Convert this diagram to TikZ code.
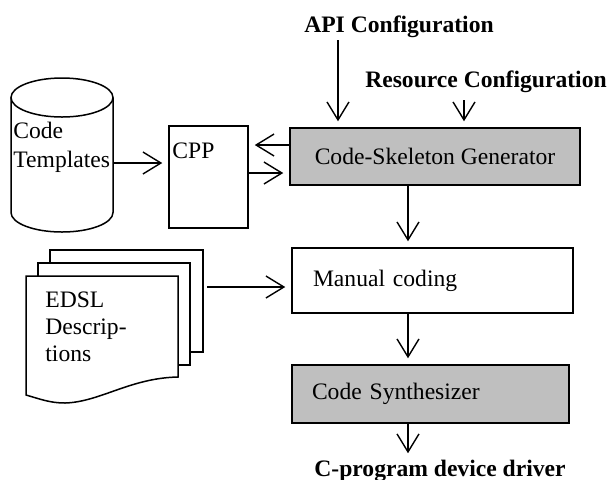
\documentclass[tikz,border=0pt]{standalone}
\usepackage{fontspec}
\setmainfont{Liberation Serif}
\usetikzlibrary{positioning, calc, shapes.geometric, arrows.meta}
\tikzstyle{Arrow} = [
%open v-shaped heads, stopped a little short of the box
line width=0.7pt,
-{Straight Barb[length=9pt, width=11pt, line width=0.7pt]},
shorten >= 3pt
]

\begin{document}
\begin{tikzpicture}[x=0.5pt, y=-0.5pt,
				lbl/.style = {font=\fontsize{11.8}{14.5}\selectfont, inner sep=0pt},
				head/.style = {font=\fontsize{11.8}{14}\selectfont\bfseries, inner sep=0pt},
				proc/.style = {rectangle, draw, line width=0.75pt, font=\fontsize{11.8}{14}\selectfont, inner sep=0pt},
				shaded/.style = {proc, fill=black!25},
				store/.style = {rectangle, minimum width=51pt, minimum height=77pt, inner sep=0pt, outer sep=0pt},
				page/.style = {draw, line width=0.75pt},
			]
			\useasboundingbox (0,0) rectangle (610,479);

			% configuration inputs
			\node[head, anchor=base](api) at (399,32){API Configuration};
			\node[head, anchor=base](res) at (486,87){Resource Configuration};

			% main flow
			\node[shaded, minimum width=145pt, minimum height=28.5pt](gen) at (435,156.5){Code-Skeleton Generator};
			\node[proc, minimum width=39.5pt, minimum height=51pt](cpp) at (208.5,177){};
			\node[lbl, anchor=west](cpptxt) at (172,150.5){CPP};
			\node[proc, minimum height=32.5pt, inner xsep=10.5pt, text width=119.5pt, align=left](man) at (432.5,280.5){Manual coding};
			\node[shaded, minimum height=29pt, inner xsep=10pt, text width=118.5pt, align=left](syn) at (430.5,394){Code Synthesizer};
			\node[head, anchor=base](out) at (440,476){C-program device driver};

			% code templates (cylinder drawn round the node)
			\node[store](tpl) at (62,155){};
			\draw[page]([yshift=-9.75pt]tpl.north) ellipse[x radius=25.5pt, y radius=9.75pt];
			\draw[page]([yshift=-9.75pt]tpl.north west)--([yshift=9.75pt]tpl.south west) arc[start angle=180, end angle=360, x radius=25.5pt, y radius=9.75pt]--([yshift=-9.75pt]tpl.north east);
			\node[lbl, align=left, anchor=north west](tpltxt) at (13,122){Code\\Templates};

			% EDSL description pages
			\draw[page] (50,263) -- (50,250) -- (203,250) -- (203,352) -- (190,352);
			\draw[page] (38,276) -- (38,263) -- (190,263) -- (190,365) -- (178,365);
			\draw[page] (26,276) -- (178,276) -- (178,377) .. controls (130,378) and (100,402) .. (65,403) .. controls (50,403) and (40,399) .. (26,395) -- cycle;
			\node[lbl, font=\fontsize{11.8}{13.5}\selectfont, align=left, anchor=north west](edsl) at (45,291){EDSL\\Descrip-\\tions};
			\coordinate(pages) at (207,287);
			\coordinate(spine) at ([xshift=-13.5pt]gen.south);

			\draw[Arrow]([xshift=-30.5pt, yshift=-4pt]api.base)--([xshift=-30.5pt]api.base |- gen.north);
			\draw[Arrow]([xshift=-11pt, yshift=-6.5pt]res.base)--([xshift=-11pt]res.base |- gen.north);
			\draw[Arrow]([yshift=5.75pt]gen.west)--([yshift=5.75pt]gen.west -| cpp.east);
			\draw[Arrow]([yshift=-8.25pt]gen.west -| cpp.east)--([yshift=-8.25pt]gen.west);
			\draw[Arrow]([yshift=-4pt]tpl.east)--([yshift=-4pt]tpl.east -| cpp.west);
			\draw[Arrow](pages)--(pages -| man.west);
			\draw[Arrow](spine)--(spine |- man.north);
			\draw[Arrow](spine |- man.south)--(spine |- syn.north);
			\draw[Arrow](spine |- syn.south)--(spine |- out.north);

		\end{tikzpicture}
\end{document}
